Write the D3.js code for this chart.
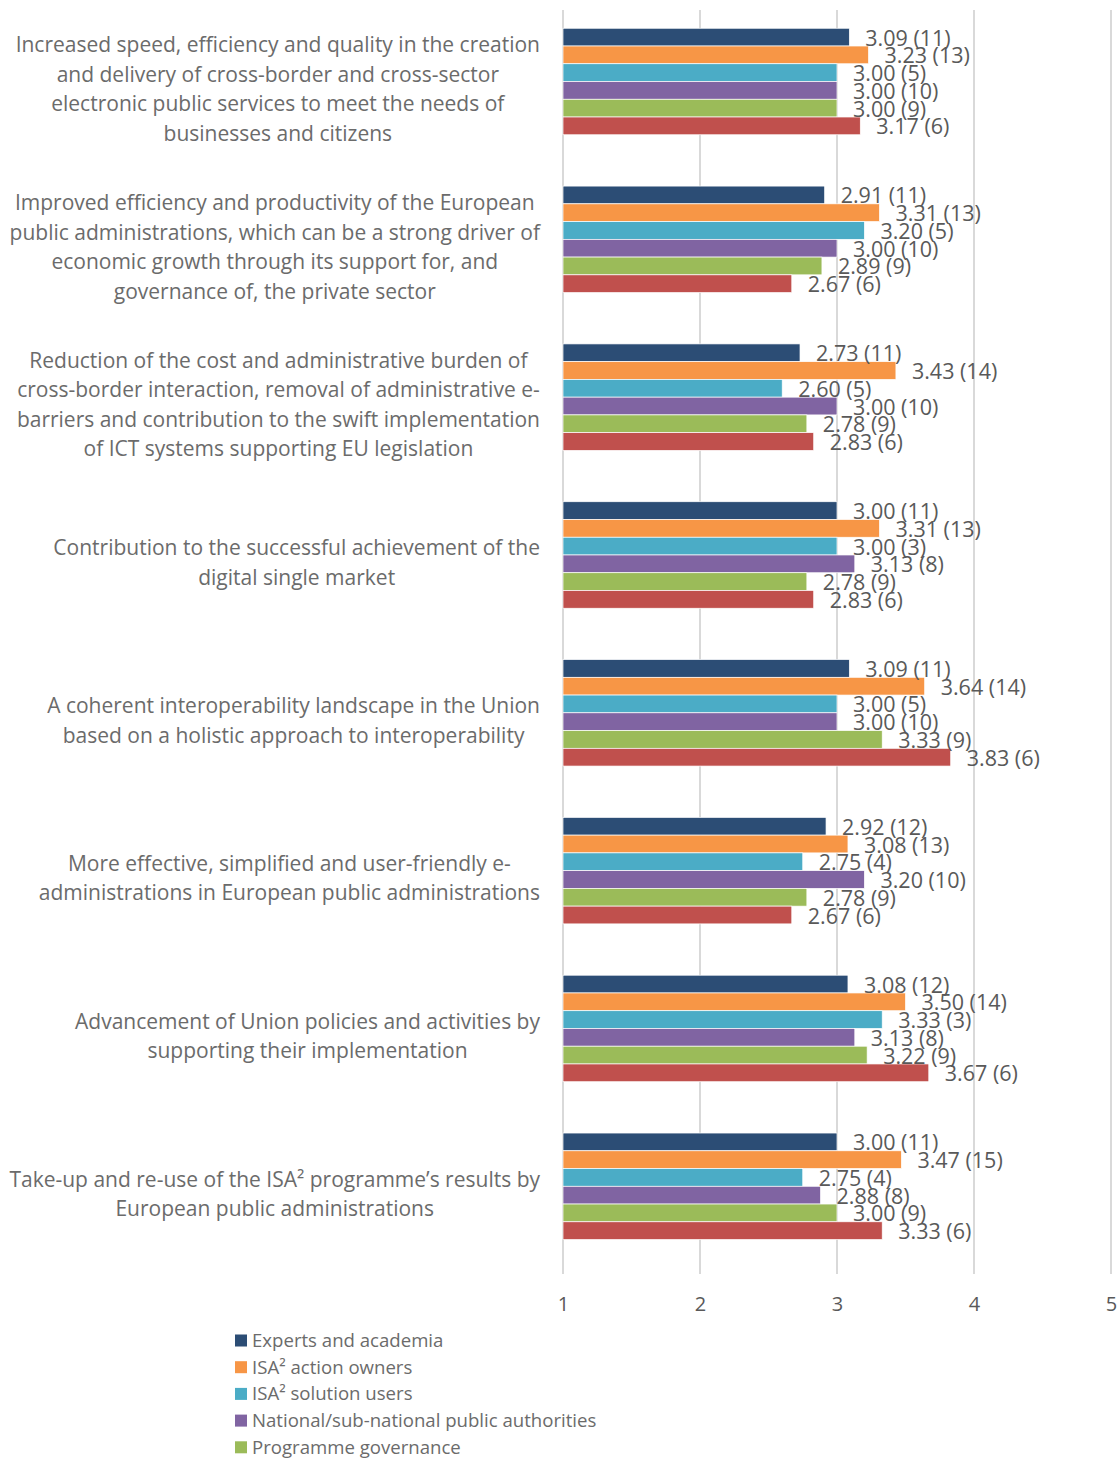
<!DOCTYPE html>
<html><head><meta charset="utf-8">
<script src="https://cdn.jsdelivr.net/npm/d3@7"></script>
<style>body{margin:0;background:#fff} svg{display:block;font-family:"Open Sans",sans-serif}</style>
</head><body><svg id="c" width="1117" height="1459"></svg>
<script>
const categories = [
  "Increased speed, efficiency and quality in the creation\nand delivery of cross-border and cross-sector\nelectronic public services to meet the needs of\nbusinesses and citizens",
  "Improved efficiency and productivity of the European\npublic administrations, which can be a strong driver of\neconomic growth through its support for, and\ngovernance of, the private sector",
  "Reduction of the cost and administrative burden of\ncross-border interaction, removal of administrative e-\nbarriers and contribution to the swift implementation\nof ICT systems supporting EU legislation",
  "Contribution to the successful achievement of the\ndigital single market",
  "A coherent interoperability landscape in the Union\nbased on a holistic approach to interoperability",
  "More effective, simplified and user-friendly e-\nadministrations in European public administrations",
  "Advancement of Union policies and activities by\nsupporting their implementation",
  "Take-up and re-use of the ISA\u00b2 programme\u2019s results by\nEuropean public administrations"
];
const legendLabels = ["Experts and academia","ISA\u00b2 action owners","ISA\u00b2 solution users","National/sub-national public authorities","Programme governance"];
const colors = ["#2c4d75","#f79646","#4bacc6","#8064a2","#9bbb59","#c0504d"];

const expertsValues = [3.09,2.91,2.73,3.00,3.09,2.92,3.08,3.00];
const expertsCounts = [11,11,11,11,11,12,12,11];
const ownersValues = [3.23,3.31,3.43,3.31,3.64,3.08,3.50,3.47];
const ownersCounts = [13,13,14,13,14,13,14,15];
const usersValues = [3.00,3.20,2.60,3.00,3.00,2.75,3.33,2.75];
const usersCounts = [5,5,5,3,5,4,3,4];
const authoritiesValues = [3.00,3.00,3.00,3.13,3.00,3.20,3.13,2.88];
const authoritiesCounts = [10,10,10,8,10,10,8,8];
const governanceValues = [3.00,2.89,2.78,2.78,3.33,2.78,3.22,3.00];
const governanceCounts = [9,9,9,9,9,9,9,9];
const sixthValues = [3.17,2.67,2.83,2.83,3.83,2.67,3.67,3.33];
const sixthCounts = [6,6,6,6,6,6,6,6];
const xTicks = [1,2,3,4,5];

const seriesValues = [expertsValues, ownersValues, usersValues, authoritiesValues, governanceValues, sixthValues];
const seriesCounts = [expertsCounts, ownersCounts, usersCounts, authoritiesCounts, governanceCounts, sixthCounts];

const svg = d3.select("#c");
const x = d3.scaleLinear().domain([1,5]).range([563,1111]);
const y = d3.scaleBand().domain(d3.range(categories.length)).range([2.6,1265.2]);
const groupH = 106.5;
const yi = d3.scaleBand().domain(d3.range(seriesValues.length)).range([0,groupH]);

// gridlines
svg.append("g").selectAll("line").data(xTicks).join("line")
  .attr("x1", d=>x(d)).attr("x2", d=>x(d)).attr("y1",10).attr("y2",1274)
  .attr("stroke","#d9d9d9").attr("stroke-width",2);

// bars
const groups = svg.append("g").selectAll("g").data(categories).join("g")
  .attr("transform",(d,i)=>`translate(0,${y(i)+(y.bandwidth()-groupH)/2})`);
groups.each(function(cat, ci){
  const g = d3.select(this);
  const rows = seriesValues.map((vals,si)=>({si, v: vals[ci], n: seriesCounts[si][ci]}));
  g.selectAll("rect").data(rows).join("rect")
    .attr("x", x(1)).attr("y", d=>yi(d.si))
    .attr("width", d=>x(d.v)-x(1)).attr("height", yi.bandwidth())
    .attr("fill", d=>colors[d.si]).attr("stroke","#fff").attr("stroke-width",0.7);
  g.selectAll("text").data(rows).join("text")
    .attr("x", d=>x(d.v)+16).attr("y", d=>yi(d.si)+yi.bandwidth()/2)
    .attr("dominant-baseline","central")
    .attr("font-size",21.5).attr("fill","#595959")
    .text(d=>`${d.v.toFixed(2)} (${d.n})`);
});

// category labels
const lineH = 29.5;
categories.forEach((cat, ci)=>{
  const lines = cat.split("\n");
  const t = svg.append("text").attr("font-size",21).attr("fill","#6b6b6b").attr("text-anchor","middle");
  const cy = y(ci)+y.bandwidth()/2 + 7;
  const spans = lines.map((ln,li)=> t.append("tspan").attr("x",0)
    .attr("y", cy + (li-(lines.length-1)/2)*lineH).attr("dominant-baseline","central").text(ln));
  let maxW = 0;
  spans.forEach(s=>{ maxW = Math.max(maxW, s.node().getComputedTextLength()); });
  const cx = 540 - maxW/2;
  spans.forEach(s=>s.attr("x",cx));
});

// x axis
const ax = svg.append("g").attr("transform","translate(0,1294)")
  .call(d3.axisBottom(x).tickValues(xTicks).tickSize(0).tickFormat(d3.format("d")));
ax.select(".domain").remove();
ax.selectAll("text").attr("font-size",20).attr("fill","#595959").attr("font-family","Open Sans, sans-serif");

// legend
const leg = svg.append("g").selectAll("g").data(legendLabels).join("g")
  .attr("transform",(d,i)=>`translate(235,${1340.5+i*26.7})`);
leg.append("rect").attr("x",0).attr("y",-6).attr("width",12).attr("height",12).attr("fill",(d,i)=>colors[i]);
leg.append("text").attr("x",17).attr("y",-1).attr("dominant-baseline","central")
  .attr("font-size",18.6).attr("fill","#6b6b6b").text(d=>d);
</script></body></html>
